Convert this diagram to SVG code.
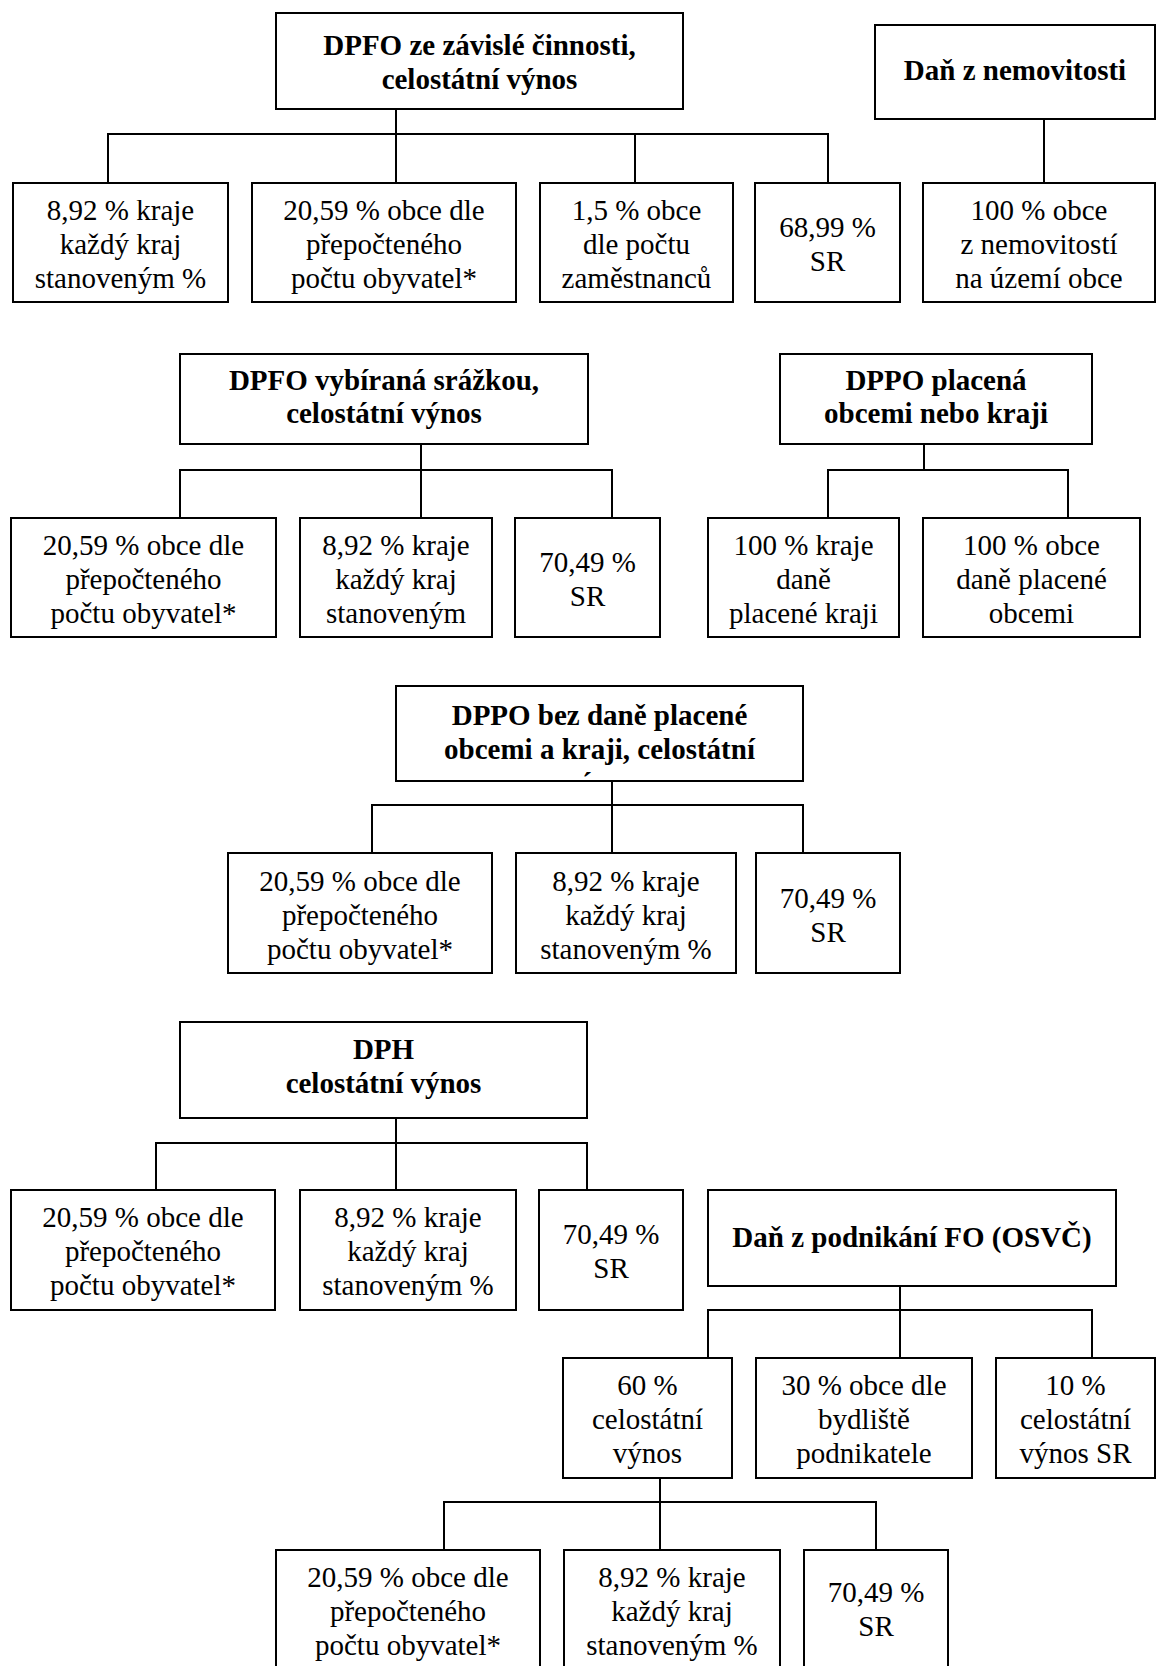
<svg xmlns="http://www.w3.org/2000/svg" width="1157" height="1666" viewBox="0 0 1157 1666" font-family="Liberation Serif, Times New Roman, Times, DejaVu Serif, serif">
<style>
rect{fill:#fff;stroke:#000;stroke-width:2}
.c line{stroke:#000;stroke-width:2}
text{font-size:29px;text-anchor:middle;fill:#000}
.b{font-weight:bold}
</style>
<defs>
<clipPath id="clipF"><rect x="396" y="686" width="406" height="93"/></clipPath>
</defs>
<rect x="0" y="0" width="1157" height="1666" style="stroke:none"/>
<g class="c" id="connectors">
<line x1="396" y1="109" x2="396" y2="134"/><line x1="107" y1="134" x2="829" y2="134"/>
<line x1="108" y1="134" x2="108" y2="183"/><line x1="396" y1="134" x2="396" y2="183"/><line x1="635" y1="134" x2="635" y2="183"/><line x1="828" y1="134" x2="828" y2="183"/>
<line x1="1044" y1="119" x2="1044" y2="183"/>
<line x1="421" y1="444" x2="421" y2="470"/><line x1="179" y1="470" x2="613" y2="470"/>
<line x1="180" y1="470" x2="180" y2="518"/><line x1="421" y1="470" x2="421" y2="518"/><line x1="612" y1="470" x2="612" y2="518"/>
<line x1="924" y1="444" x2="924" y2="470"/><line x1="827" y1="470" x2="1069" y2="470"/>
<line x1="828" y1="470" x2="828" y2="518"/><line x1="1068" y1="470" x2="1068" y2="518"/>
<line x1="612" y1="781" x2="612" y2="805"/><line x1="371" y1="805" x2="804" y2="805"/>
<line x1="372" y1="805" x2="372" y2="853"/><line x1="612" y1="805" x2="612" y2="853"/><line x1="803" y1="805" x2="803" y2="853"/>
<line x1="396" y1="1118" x2="396" y2="1143"/><line x1="155" y1="1143" x2="588" y2="1143"/>
<line x1="156" y1="1143" x2="156" y2="1190"/><line x1="396" y1="1143" x2="396" y2="1190"/><line x1="587" y1="1143" x2="587" y2="1190"/>
<line x1="900" y1="1286" x2="900" y2="1310"/><line x1="707" y1="1310" x2="1093" y2="1310"/>
<line x1="708" y1="1310" x2="708" y2="1358"/><line x1="900" y1="1310" x2="900" y2="1358"/><line x1="1092" y1="1310" x2="1092" y2="1358"/>
<line x1="660" y1="1478" x2="660" y2="1502"/><line x1="443" y1="1502" x2="877" y2="1502"/>
<line x1="444" y1="1502" x2="444" y2="1550"/><line x1="660" y1="1502" x2="660" y2="1550"/><line x1="876" y1="1502" x2="876" y2="1550"/>
</g>
<g id="nodeA"><rect x="276" y="13" width="407" height="96"/><text class="b" x="479.5" y="55">DPFO ze závislé činnosti,</text><text class="b" x="479.5" y="89">celostátní výnos</text></g>
<g id="nodeB"><rect x="875" y="25" width="280" height="94"/><text class="b" x="1015" y="80">Daň z nemovitosti</text></g>
<g id="nodeA1"><rect x="13" y="183" width="215" height="119"/><text x="120.5" y="220">8,92 % kraje</text><text x="120.5" y="254">každý kraj</text><text x="120.5" y="288">stanoveným %</text></g>
<g id="nodeA2"><rect x="252" y="183" width="264" height="119"/><text x="384" y="220">20,59 % obce dle</text><text x="384" y="254">přepočteného</text><text x="384" y="288">počtu obyvatel*</text></g>
<g id="nodeA3"><rect x="540" y="183" width="193" height="119"/><text x="636.5" y="220">1,5 % obce</text><text x="636.5" y="254">dle počtu</text><text x="636.5" y="288">zaměstnanců</text></g>
<g id="nodeA4"><rect x="755" y="183" width="145" height="119"/><text x="827.5" y="237">68,99 %</text><text x="827.5" y="271">SR</text></g>
<g id="nodeB1"><rect x="923" y="183" width="232" height="119"/><text x="1039" y="220">100 % obce</text><text x="1039" y="254">z nemovitostí</text><text x="1039" y="288">na území obce</text></g>
<g id="nodeD"><rect x="180" y="354" width="408" height="90"/><text class="b" x="384" y="390">DPFO vybíraná srážkou,</text><text class="b" x="384" y="423">celostátní výnos</text></g>
<g id="nodeD1"><rect x="11" y="518" width="265" height="119"/><text x="143.5" y="555">20,59 % obce dle</text><text x="143.5" y="589">přepočteného</text><text x="143.5" y="623">počtu obyvatel*</text></g>
<g id="nodeD2"><rect x="300" y="518" width="192" height="119"/><text x="396" y="555">8,92 % kraje</text><text x="396" y="589">každý kraj</text><text x="396" y="623">stanoveným</text></g>
<g id="nodeD3"><rect x="515" y="518" width="145" height="119"/><text x="587.5" y="572">70,49 %</text><text x="587.5" y="606">SR</text></g>
<g id="nodeE"><rect x="780" y="354" width="312" height="90"/><text class="b" x="936" y="390">DPPO placená</text><text class="b" x="936" y="423">obcemi nebo kraji</text></g>
<g id="nodeE1"><rect x="708" y="518" width="191" height="119"/><text x="803.5" y="555">100 % kraje</text><text x="803.5" y="589">daně</text><text x="803.5" y="623">placené kraji</text></g>
<g id="nodeE2"><rect x="923" y="518" width="217" height="119"/><text x="1031.5" y="555">100 % obce</text><text x="1031.5" y="589">daně placené</text><text x="1031.5" y="623">obcemi</text></g>
<g id="nodeF"><rect x="396" y="686" width="407" height="95"/><text class="b" x="599.5" y="725">DPPO bez daně placené</text><text class="b" x="599.5" y="759">obcemi a kraji, celostátní</text><text class="b" x="599.5" y="793" clip-path="url(#clipF)">výnos</text></g>
<g id="nodeF1"><rect x="228" y="853" width="264" height="120"/><text x="360" y="891">20,59 % obce dle</text><text x="360" y="925">přepočteného</text><text x="360" y="959">počtu obyvatel*</text></g>
<g id="nodeF2"><rect x="516" y="853" width="220" height="120"/><text x="626" y="891">8,92 % kraje</text><text x="626" y="925">každý kraj</text><text x="626" y="959">stanoveným %</text></g>
<g id="nodeF3"><rect x="756" y="853" width="144" height="120"/><text x="828" y="908">70,49 %</text><text x="828" y="942">SR</text></g>
<g id="nodeG"><rect x="180" y="1022" width="407" height="96"/><text class="b" x="383.5" y="1059">DPH</text><text class="b" x="383.5" y="1093">celostátní výnos</text></g>
<g id="nodeG1"><rect x="11" y="1190" width="264" height="120"/><text x="143" y="1227">20,59 % obce dle</text><text x="143" y="1261">přepočteného</text><text x="143" y="1295">počtu obyvatel*</text></g>
<g id="nodeG2"><rect x="300" y="1190" width="216" height="120"/><text x="408" y="1227">8,92 % kraje</text><text x="408" y="1261">každý kraj</text><text x="408" y="1295">stanoveným %</text></g>
<g id="nodeG3"><rect x="539" y="1190" width="144" height="120"/><text x="611" y="1244">70,49 %</text><text x="611" y="1278">SR</text></g>
<g id="nodeH"><rect x="708" y="1190" width="408" height="96"/><text class="b" x="912" y="1247">Daň z podnikání FO (OSVČ)</text></g>
<g id="nodeH1"><rect x="563" y="1358" width="169" height="120"/><text x="647.5" y="1395">60 %</text><text x="647.5" y="1429">celostátní</text><text x="647.5" y="1463">výnos</text></g>
<g id="nodeH2"><rect x="756" y="1358" width="216" height="120"/><text x="864" y="1395">30 % obce dle</text><text x="864" y="1429">bydliště</text><text x="864" y="1463">podnikatele</text></g>
<g id="nodeH3"><rect x="996" y="1358" width="159" height="120"/><text x="1075.5" y="1395">10 %</text><text x="1075.5" y="1429">celostátní</text><text x="1075.5" y="1463">výnos SR</text></g>
<g id="nodeI1"><rect x="276" y="1550" width="264" height="122"/><text x="408" y="1587">20,59 % obce dle</text><text x="408" y="1621">přepočteného</text><text x="408" y="1655">počtu obyvatel*</text></g>
<g id="nodeI2"><rect x="564" y="1550" width="216" height="122"/><text x="672" y="1587">8,92 % kraje</text><text x="672" y="1621">každý kraj</text><text x="672" y="1655">stanoveným %</text></g>
<g id="nodeI3"><rect x="804" y="1550" width="144" height="122"/><text x="876" y="1602">70,49 %</text><text x="876" y="1636">SR</text></g>
</svg>
